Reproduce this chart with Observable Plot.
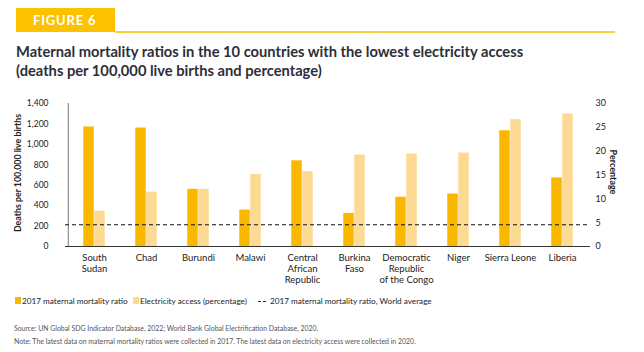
<!DOCTYPE html>
<html><head><meta charset="utf-8">
<script src="https://cdn.jsdelivr.net/npm/d3@7"></script>
<script src="https://cdn.jsdelivr.net/npm/@observablehq/plot@0.6"></script>
<style>
body{margin:0;width:644px;height:352px;position:relative;background:#fff;font-family:Lato,"Open Sans",sans-serif;color:#2e2e38;overflow:hidden}
#fig{position:absolute;left:16px;top:8px;width:99px;height:24px;background:#FCC200;color:#fff;font-weight:700;font-size:13px;letter-spacing:0.8px;line-height:24px;padding-left:17px;box-sizing:border-box}
#rule{position:absolute;left:115px;top:31px;width:500px;height:2px;background:#FCD23C}
#title{position:absolute;left:16px;top:42px;font-weight:700;font-size:14.7px;line-height:19px;color:#2e2e38}
#chart{position:absolute;left:0;top:90px}
#legend{position:absolute;left:15px;top:296px;font-size:8.2px;color:#222;white-space:nowrap;height:10px}
#legend .sw{position:absolute;top:1px;width:6px;height:7px}
#legend .t{position:absolute;top:0;line-height:10px}
#legend .dash{position:absolute;top:5px;width:8px;border-top:1.3px dashed #222}
#source{position:absolute;left:14px;top:322px;font-size:6.9px;color:#555;line-height:13px;white-space:nowrap}
</style></head><body>
<div id="fig">FIGURE 6</div>
<div id="rule"></div>
<div id="title">Maternal mortality ratios in the 10 countries with the lowest electricity access<br>(deaths per 100,000 live births and percentage)</div>
<div id="chart"></div>
<div id="legend">
  <span class="sw" style="left:0;background:#FAB800"></span><span class="t" style="left:7px">2017 maternal mortality ratio</span>
  <span class="sw" style="left:118px;background:#FDDA94"></span><span class="t" style="left:125px">Electricity access (percentage)</span>
  <span class="dash" style="left:243px"></span><span class="t" style="left:255px">2017 maternal mortality ratio, World average</span>
</div>
<div id="source">Source: UN Global SDG Indicator Database, 2022; World Bank Global Electrification Database, 2020.<br>Note: The latest data on maternal mortality ratios were collected in 2017. The latest data on electricity access were collected in 2020.</div>
<script>
const countries = ["South Sudan","Chad","Burundi","Malawi","Central African Republic","Burkina Faso","Democratic Republic of the Congo","Niger","Sierra Leone","Liberia"];
const countryLabels = ["South\nSudan","Chad","Burundi","Malawi","Central\nAfrican\nRepublic","Burkina\nFaso","Democratic\nRepublic\nof the Congo","Niger","Sierra Leone","Liberia"];
const mmr2017 = [1170, 1160, 560, 357, 839, 324, 482, 514, 1133, 671];
const electricityPct = [7.4, 11.4, 12.0, 15.1, 15.7, 19.2, 19.4, 19.6, 26.6, 27.8];
const worldAvgMMR = 213;
const leftTicks = [0, 200, 400, 600, 800, 1000, 1200, 1400];
const rightTicks = [0, 5, 10, 15, 20, 25, 30];
const leftMax = 1400, rightMax = 30;

const toLeft = p => p * leftMax / rightMax;
const rows = countries.map((c, i) => ({country: c, label: countryLabels[i], mmr: mmr2017[i], elec: electricityPct[i]}));
const labelOf = Object.fromEntries(rows.map(r => [r.country, r.label]));

const half = (644 - 65 - 54) / countries.length / 2;
const bw = 11;

const chart = Plot.plot({
  width: 644, height: 200,
  marginLeft: 65, marginRight: 54, marginTop: 13, marginBottom: 44,
  style: {fontFamily: "Lato, 'Open Sans', sans-serif", fontSize: "9.5px", color: "#222"},
  x: {domain: countries, padding: 0, label: null},
  y: {domain: [0, leftMax], label: null},
  marks: [
    Plot.barY(rows, {x: "country", y: "mmr", fill: "#FAB800", insetLeft: half - bw, insetRight: half}),
    Plot.barY(rows, {x: "country", y: d => toLeft(d.elec), fill: "#FDDA94", insetLeft: half, insetRight: half - bw}),
    Plot.ruleX([countries[0]], {y1: 0, y2: leftMax, dx: -half, stroke: "#777", strokeWidth: 1}),
    Plot.ruleY([0], {stroke: "#333", strokeWidth: 1.2}),
    Plot.ruleY([worldAvgMMR], {stroke: "#111", strokeWidth: 1.2, strokeDasharray: "4,3"}),
    Plot.axisY(leftTicks, {anchor: "left", tickSize: 0, tickPadding: 17, fontSize: 8.5, tickFormat: d3.format(","), label: null}),
    Plot.axisY(rightTicks.map(toLeft), {anchor: "right", tickSize: 0, tickPadding: 5, fontSize: 9, tickFormat: d => String(Math.round(d * rightMax / leftMax)), label: null}),
    Plot.axisX({tickSize: 0, tickPadding: 7, tickFormat: d => labelOf[d], label: null, lineHeight: 1.15}),
    Plot.text(["Deaths per 100,000 live births"], {frameAnchor: "left", textAnchor: "middle", dx: -47, dy: -2, rotate: -90, fontWeight: "bold", fontSize: 8.8, fill: "#222"}),
    Plot.text(["Percentage"], {frameAnchor: "right", textAnchor: "middle", dx: 22, dy: -3, rotate: 90, fontWeight: "bold", fontSize: 9, fill: "#222"})
  ]
});
document.getElementById("chart").appendChild(chart);
</script>
</body></html>
